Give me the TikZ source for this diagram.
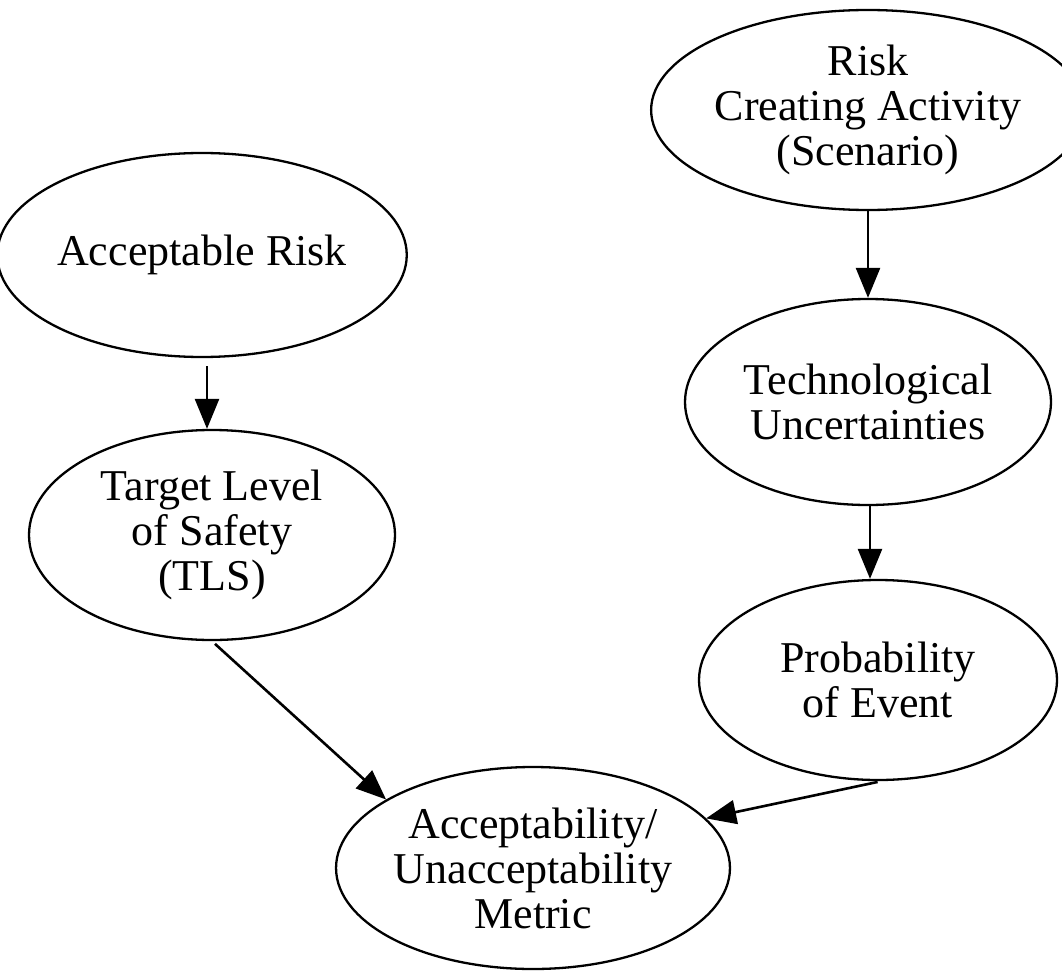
\documentclass[tikz,border=0pt]{standalone}
\usepackage{fontspec}
\setmainfont{Liberation Serif}
\usetikzlibrary{shapes.geometric,arrows.meta}
\begin{document}
\begin{tikzpicture}[x=1pt,y=-1pt,
  bubble/.style={ellipse,draw=black,line width=2.3pt,inner sep=0pt,
    align=center,font=\fontsize{44}{45}\selectfont},
  flow/.style={draw=black,line width=2.6pt,
    -{Triangle[length=30pt,width=24pt]}}]
\useasboundingbox (0,0) rectangle (1062,971);

% left branch
\node[bubble,minimum width=374pt,minimum height=204pt] (ar) at (202,255) {Acceptable Risk};
\node[bubble,minimum width=366pt,minimum height=210pt] (tls) at (212,535) {Target Level\\of Safety\\(TLS)};

% right branch
\node[bubble,minimum width=372pt,minimum height=200pt] (rca) at (868,110) {Risk\\Creating Activity\\(Scenario)};
\node[bubble,minimum width=366pt,minimum height=206pt] (tu) at (868,402) {Technological\\Uncertainties};
\node[bubble,minimum width=358pt,minimum height=200pt] (pe) at (878,680) {Probability\\of Event};

% result
\node[bubble,minimum width=350pt,minimum height=202pt] (m) at (533,868) {Acceptability/\\Unacceptability\\Metric};

% vertical guides for the straight-down connectors
\coordinate (leftcol) at (207,0);
\coordinate (rightcol) at (870,0);

% connectors
\draw[flow,shorten <=8pt] (ar.south -| leftcol) -- (tls.north -| leftcol);
\draw[flow] (rca.south) -- (tu.north);
\draw[flow] (tu.south -| rightcol) -- (pe.north -| rightcol);
\draw[flow,shorten <=4pt] (tls.south) -- (m.155);
\draw[flow,shorten <=4pt] (pe.272) -- (m.16);
\end{tikzpicture}
\end{document}
